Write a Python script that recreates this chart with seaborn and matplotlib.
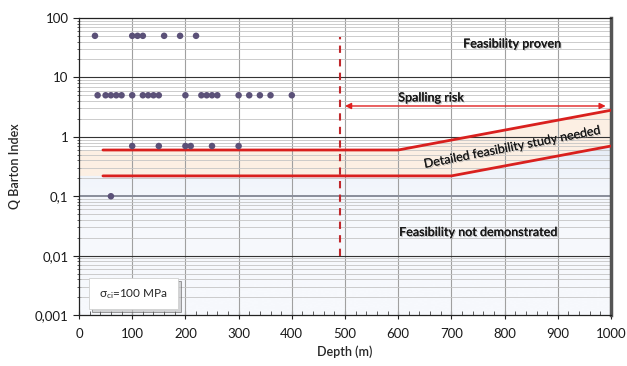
import numpy as np
import seaborn as sns
import matplotlib.pyplot as plt
import matplotlib.patheffects as pe
from matplotlib.patches import Rectangle, Shadow
from matplotlib.ticker import FixedLocator, FixedFormatter, LogLocator, NullFormatter, MultipleLocator

# data
depth_q50 = [30, 100, 110, 120, 160, 190, 220]
depth_q5 = [35, 50, 60, 70, 80, 100, 120, 130, 140, 150, 200, 230, 240, 250, 260,
            300, 320, 340, 360, 400]
depth_q07 = [100, 150, 200, 210, 250, 300]
depth_q01 = [60]

# boundary lines (depth, Q)
upper_x = [45, 600, 1000]
upper_q = [0.6, 0.6, 2.8]
lower_x = [45, 700, 1000]
lower_q = [0.22, 0.22, 0.7]

y_ticks = [0.001, 0.01, 0.1, 1, 10, 100]
y_labels = ["0,001", "0,01", "0,1", "1", "10", "100"]

sns.set_style("white")
plt.rcParams['font.family'] = ['Lato', 'DejaVu Sans']

fig = plt.figure(figsize=(6.27, 3.66), dpi=100)
ax = fig.add_axes([0.126, 0.139, 0.8485, 0.812])
ax.set_yscale('log')

# zone fills (straight in log space between knots)
fx = np.linspace(0, 1000, 400)
f_up = 10 ** np.interp(fx, [0] + upper_x, np.log10([upper_q[0]] + upper_q))
f_lo = 10 ** np.interp(fx, [0] + lower_x, np.log10([lower_q[0]] + lower_q))
ax.fill_between(fx, f_lo, f_up, color='#fcefe3', zorder=0, lw=0)
blue = ax.fill_between(fx, 0.001, f_lo, color='none', zorder=0, lw=0)
grad = np.linspace(0, 1, 256).reshape(-1, 1)
img = ax.imshow(grad, extent=[0, 1000, 0.001, 1], aspect='auto', origin='lower',
                cmap=sns.blend_palette(['#f7f9fd', '#d9e3f2'], as_cmap=True),
                zorder=0, interpolation='bicubic')
img.set_clip_path(blue.get_paths()[0], transform=ax.transData)
ax.set_xlim(0, 1000)
ax.set_ylim(0.001, 100)

# grid
ax.xaxis.set_major_locator(MultipleLocator(100))
ax.xaxis.set_minor_locator(MultipleLocator(20))
ax.yaxis.set_major_locator(FixedLocator(y_ticks))
ax.yaxis.set_major_formatter(FixedFormatter(y_labels))
ax.yaxis.set_minor_locator(LogLocator(base=10, subs=np.arange(2, 10)))
ax.yaxis.set_minor_formatter(NullFormatter())
ax.grid(False)
for v in range(100, 1000, 100):
    ax.axvline(v, color='#a0a0a0', lw=0.8, zorder=1)
for t in [0.002, 0.003, 0.004, 0.005, 0.006, 0.007, 0.008, 0.009]:
    for d in range(5):
        ax.axhline(t * 10 ** d, color='#c4c4c4', lw=0.6, zorder=1)
for t in [0.01, 1, 10]:
    ax.axhline(t, color='#333333', lw=0.8, zorder=1)
ax.axhline(0.1, color='#8a8e9a', lw=1.4, zorder=1)

# points
for xs, q in [(depth_q50, 50), (depth_q5, 5), (depth_q07, 0.7), (depth_q01, 0.1)]:
    sns.scatterplot(x=xs, y=[q] * len(xs), ax=ax, color='#5b5178', s=22,
                    edgecolor='none', zorder=4, legend=False)

# boundaries
ax.plot(upper_x, upper_q, color='#d9201e', lw=2, zorder=3)
ax.plot(lower_x, lower_q, color='#d9201e', lw=2, zorder=3)
ax.plot([490, 490], [0.01, 48], color='#c0282c', lw=1.5, ls=(0, (3.5, 3)), zorder=3)
ax.annotate('', xy=(990, 3.3), xytext=(500, 3.3),
            arrowprops=dict(arrowstyle='<|-|>', color='#e02020', lw=1,
                            mutation_scale=9, shrinkA=0, shrinkB=0), zorder=3)

shadow = [pe.withSimplePatchShadow(offset=(0.8, -0.8), shadow_rgbFace='#9a9a9a', alpha=0.6), pe.Normal()]
ax.text(600, 4.6, 'Spalling risk', fontsize=9, fontweight='semibold', color='#1a1a1a',
        ha='left', va='center', path_effects=shadow, zorder=5)
ax.text(815, 37, 'Feasibility proven', fontsize=9, fontweight='semibold', color='#1a1a1a',
        ha='center', va='center', path_effects=shadow, zorder=5)
ax.text(815, 0.68, 'Detailed feasibility study needed', fontsize=9, color='#1a1a1a',
        ha='center', va='center', rotation=11, rotation_mode='anchor',
        path_effects=shadow, zorder=5)
ax.text(752, 0.025, 'Feasibility not demonstrated', fontsize=9, fontweight='semibold',
        color='#1a1a1a', ha='center', va='center', path_effects=shadow, zorder=5)

# sigma box
box = Rectangle((0.019, 0.02), 0.167, 0.105, transform=ax.transAxes,
                facecolor='white', edgecolor='#d0d0d0', lw=0.6, zorder=5)
ax.add_patch(Shadow(box, 0.004, -0.008, facecolor='#bbbbbb', alpha=0.6, zorder=4.9))
ax.add_patch(box)
ax.text(0.1025, 0.072, r'$\mathregular{\sigma_{ci}}$=100 MPa', transform=ax.transAxes,
        fontsize=8.5, ha='center', va='center', zorder=6)

# axes styling
for s in ['left', 'top', 'bottom']:
    ax.spines[s].set_color('#222222')
    ax.spines[s].set_linewidth(0.9)
ax.spines['right'].set_color('#555555')
ax.spines['right'].set_linewidth(2.5)
ax.tick_params(axis='both', which='major', labelsize=9.5, length=4, width=0.8,
               direction='out', colors='#222222', labelcolor='#1a1a1a')
ax.tick_params(axis='x', which='major', direction='inout', length=6, pad=6)
ax.tick_params(axis='both', which='minor', length=3, width=0.6, direction='in', colors='#444444')
ax.tick_params(axis='y', which='minor', direction='inout', length=3)
ax.tick_params(left=True, bottom=True, which='both')
ax.set_xlabel('Depth (m)', fontsize=9, fontweight='semibold', labelpad=4)
ax.set_ylabel('Q Barton Index', fontsize=9, fontweight='semibold', labelpad=10)

fig.savefig('out.png', dpi=100)
